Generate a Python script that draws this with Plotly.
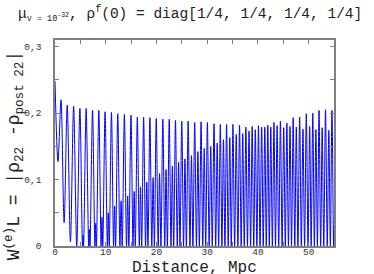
import plotly.graph_objects as go

# Positive peaks of W (distance in Mpc, value)
peak_x = [0.00, 1.18, 2.41, 3.67, 4.91, 6.14, 7.40, 8.64, 9.87, 11.13, 12.37, 13.68,
          14.98, 16.23, 17.47, 18.71, 19.96, 21.26, 22.52, 23.75, 24.99, 26.25, 27.54,
          28.80, 30.04, 31.35, 32.59, 33.82, 35.08, 36.38, 37.63, 38.87, 40.11, 41.36,
          42.54, 43.78, 45.09, 46.33, 47.57, 48.88, 50.20, 51.43, 52.67, 53.98]
peak_w = [0.248, 0.220, 0.212, 0.210, 0.207, 0.207, 0.204, 0.204, 0.202, 0.201, 0.199, 0.198,
          0.197, 0.194, 0.194, 0.193, 0.192, 0.191, 0.191, 0.189, 0.188, 0.188, 0.186,
          0.187, 0.186, 0.184, 0.183, 0.183, 0.183, 0.182, 0.179, 0.180, 0.181, 0.179,
          0.179, 0.181, 0.178, 0.180, 0.179, 0.176, 0.180, 0.175, 0.178, 0.174]

# Secondary lobes / minima between the peaks
lobe_x = [0.59, 1.80, 3.04, 4.29, 5.53, 6.77, 8.02, 9.26, 10.50, 11.75, 13.03, 14.33,
          15.61, 16.85, 18.09, 19.34, 20.61, 21.89, 23.14, 24.37, 25.62, 26.90, 28.17,
          29.42, 30.70, 31.97, 33.21, 34.45, 35.73, 37.01, 38.25, 39.49, 40.74, 41.95,
          43.16, 44.44, 45.71, 46.95, 48.23, 49.54, 50.82, 52.05, 53.33, 54.60]
lobe_w = [0.127, 0.035, 0.006, 0.000, 0.016, 0.025, 0.034, 0.043, 0.050, 0.060, 0.068, 0.075,
          0.082, 0.089, 0.096, 0.103, 0.109, 0.115, 0.120, 0.126, 0.131, 0.136, 0.142,
          0.147, 0.150, 0.155, 0.160, 0.163, 0.168, 0.169, 0.173, 0.175, 0.179, 0.182,
          0.186, 0.188, 0.185, 0.193, 0.194, 0.199, 0.200, 0.204, 0.205, 0.204]

# Points where the curve touches zero
node_x = [5.42, 5.63, 6.64, 6.90, 7.87, 8.17, 9.09, 9.42, 10.32, 10.69, 11.55, 11.95,
          12.80, 13.25, 14.10, 14.56, 15.38, 15.83, 16.62, 17.09, 17.85, 18.33, 19.08, 19.59,
          20.34, 20.88, 21.63, 22.15, 22.87, 23.40, 24.10, 24.64, 25.34, 25.90, 26.61, 27.19,
          27.88, 28.46, 29.13, 29.71, 30.39, 31.00, 31.68, 32.26, 32.91, 33.50, 34.15, 34.75,
          35.41, 36.05, 36.70, 37.31, 37.94, 38.56, 39.18, 39.80, 40.42, 41.05, 41.65, 42.25,
          42.85, 43.47, 44.10, 44.77, 45.40, 46.02, 46.63, 47.27, 47.89, 48.56, 49.20, 49.88,
          50.50, 51.13, 51.73, 52.37, 52.98, 53.67, 54.28, 54.92]
node_w = [0.0] * len(node_x)

end_x = [55.0]
end_w = [0.03]

x_ticks = [0, 10, 20, 30, 40, 50]
x_ticktext = ["0", "10", "20", "30", "40", "50"]
x_minor = [5, 15, 25, 35, 45, 55]
y_ticks = [0, 0.1, 0.2, 0.3]
y_ticktext = ["0", "0,1", "0,2", "0,3"]
y_minor = [0.05, 0.15, 0.25]

pts = sorted(zip(peak_x + lobe_x + node_x + end_x, peak_w + lobe_w + node_w + end_w))
xs = [p[0] for p in pts]
ws = [p[1] for p in pts]

MONO = "Liberation Mono, Courier New, monospace"
GRAY = "#7f7f7f"

fig = go.Figure()
fig.add_trace(go.Scatter(x=xs, y=ws, mode="lines",
                         line=dict(color="#0000ff", width=1.0, shape="spline", smoothing=0.9),
                         showlegend=False, hoverinfo="skip"))

axis_common = dict(showline=True, linecolor=GRAY, linewidth=1.5, mirror="ticks",
                   ticks="inside", ticklen=4, tickcolor=GRAY, tickwidth=1,
                   showgrid=False, zeroline=False,
                   tickfont=dict(family=MONO, size=9.5, color="#333333"))

fig.update_xaxes(range=[0, 55], tickvals=x_ticks, ticktext=x_ticktext,
                 minor=dict(tickvals=x_minor, ticks="inside", ticklen=4, tickcolor=GRAY),
                 ticklabelstandoff=-4, **axis_common)
fig.update_yaxes(range=[0, 0.31], tickvals=y_ticks, ticktext=y_ticktext,
                 minor=dict(tickvals=y_minor, ticks="inside", ticklen=4, tickcolor=GRAY),
                 ticklabelstandoff=10, **axis_common)

title_text = ("μ<sub><span style='font-size:8.5px'>ν = 10</span>"
              "<sup><span style='font-size:6.5px'>-32</span></sup></sub>, "
              "ρ<sup>f</sup>(0) = diag[1/4, 1/4, 1/4, 1/4]")

fig.update_layout(
    width=374, height=274,
    margin=dict(l=55, r=40, t=40, b=28),
    paper_bgcolor="white", plot_bgcolor="white",
    annotations=[
        dict(text=title_text,
             xref="paper", yref="paper", x=0.483, y=1.0, yshift=26,
             xanchor="center", yanchor="middle", showarrow=False,
             font=dict(family=MONO, size=14.5, color="#222222")),
        dict(text="Distance, Mpc", xref="paper", yref="paper", x=0.5, y=0, yshift=-22,
             xanchor="center", yanchor="middle", showarrow=False,
             font=dict(family=MONO, size=16, color="#222222")),
        dict(text="W<sup>(e)</sup>L = |ρ<sub>22</sub> -ρ<sub>post 22</sub>|",
             xref="paper", yref="paper", x=0, xshift=-41, y=0.44,
             xanchor="center", yanchor="middle", showarrow=False, textangle=-90,
             font=dict(family=MONO, size=18, color="#222222")),
    ],
)

fig.write_html("out.html", config={"displayModeBar": False},
               post_script="document.body.style.margin='0px';document.body.style.overflow='hidden';")
